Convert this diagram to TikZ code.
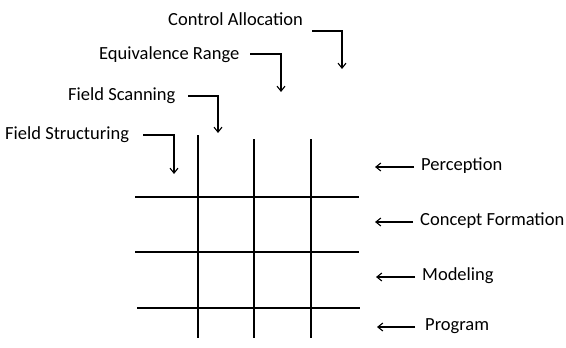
\documentclass[tikz,border=0pt]{standalone}
\usepackage{fontspec}
\setmainfont{Carlito}
\usetikzlibrary{arrows.meta}
\begin{document}
\begin{tikzpicture}[x=1pt,y=-1pt,
  lbl/.style={inner sep=0pt,font=\fontsize{18.5}{20}\selectfont},
  arr/.style={line width=1.1pt,-{Straight Barb[length=5pt,width=8pt]}},
  gridline/.style={line width=1.1pt}]
\useasboundingbox (0,0) rectangle (566,348);

% grid
\draw[gridline] (198,135) -- (198,338);
\draw[gridline] (254,139) -- (254,338);
\draw[gridline] (311,139) -- (311,338);
\draw[gridline] (135,197) -- (359,197);
\draw[gridline] (135,252) -- (359,252);
\draw[gridline] (137,308) -- (360,308);

% labels above the grid
\node[lbl,anchor=west] (fst) at (5,135) {Field Structuring};
\node[lbl,anchor=west] (fsc) at (68,96) {Field Scanning};
\node[lbl,anchor=west] (eqr) at (99,55) {Equivalence Range};
\node[lbl,anchor=west] (cal) at (168,19) {Control Allocation};

% bends of the downward connectors
\coordinate (fststart) at (143,135);
\coordinate (fscstart) at (188,96);
\coordinate (eqrstart) at (250,54);
\coordinate (calstart) at (312,31);
\coordinate (fstend) at (174,174);
\coordinate (fscend) at (218,133);
\coordinate (eqrend) at (281,92);
\coordinate (calend) at (342,69);

\draw[arr] (fststart) -| (fstend);
\draw[arr] (fscstart) -| (fscend);
\draw[arr] (eqrstart) -| (eqrend);
\draw[arr] (calstart) -| (calend);

% labels right of the grid
\node[lbl,anchor=west] (per) at (421,166) {Perception};
\node[lbl,anchor=west] (con) at (420,221) {Concept Formation};
\node[lbl,anchor=west] (mod) at (422,276) {Modeling};
\node[lbl,anchor=west] (pro) at (425,326) {Program};

\coordinate (perend) at (375,167);
\coordinate (conend) at (375,222);
\coordinate (modend) at (376,277);
\coordinate (proend) at (377,327);

\draw[arr] (per.west |- perend) ++(-7,0) -- (perend);
\draw[arr] (con.west |- conend) ++(-7,0) -- (conend);
\draw[arr] (mod.west |- modend) ++(-7,0) -- (modend);
\draw[arr] (pro.west |- proend) ++(-10,0) -- (proend);
\end{tikzpicture}
\end{document}
